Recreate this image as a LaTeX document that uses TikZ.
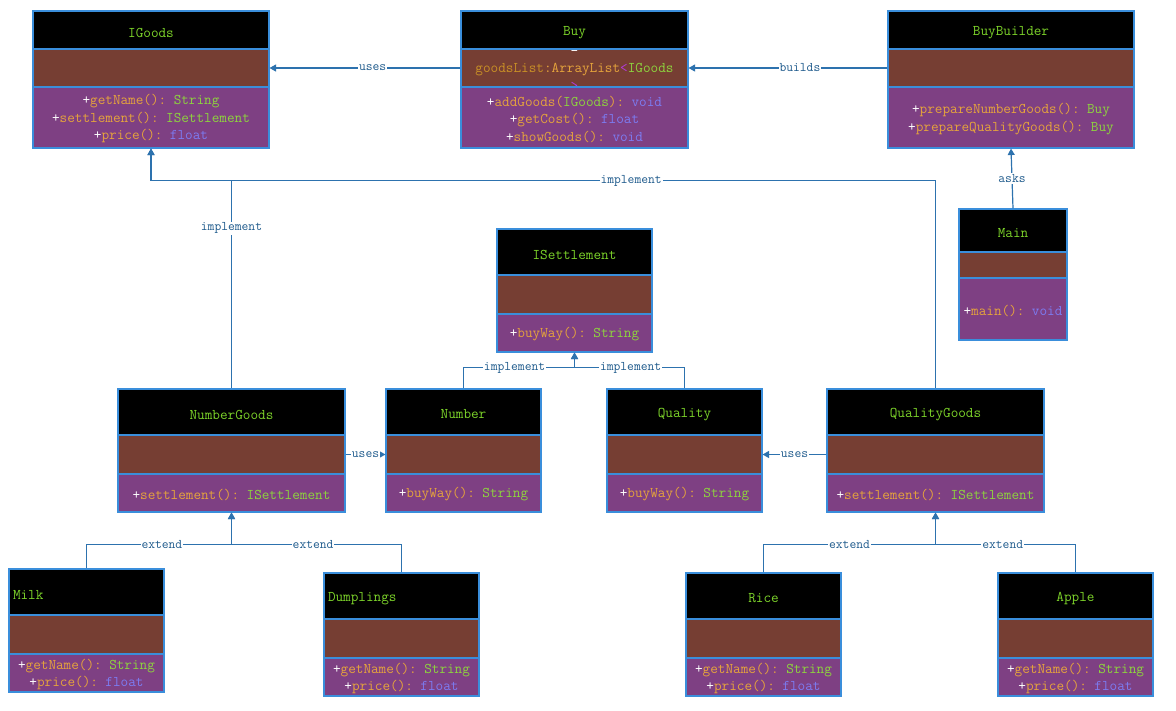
\documentclass[tikz,border=0pt]{standalone}
\usetikzlibrary{arrows.meta}

\definecolor{hdrfill}{HTML}{000000}
\definecolor{attrfill}{HTML}{763E33}
\definecolor{methfill}{HTML}{7E4083}
\definecolor{boxline}{HTML}{3A8EDB}
\definecolor{titlegreen}{HTML}{7DD42A}
\definecolor{mname}{HTML}{E6A43C}
\definecolor{typegreen}{HTML}{8ED43E}
\definecolor{typeblue}{HTML}{7C7CF2}
\definecolor{fieldname}{HTML}{C99026}
\definecolor{generic}{HTML}{B23BD9}
\definecolor{wire}{HTML}{2D72AE}
\definecolor{wiretext}{HTML}{1E5A8C}

% pieces of a member line
\newcommand\pls{\textcolor{white}{+}}
\newcommand\mn[1]{\textcolor{mname}{#1}}
\newcommand\tg[1]{\textcolor{typegreen}{#1}}
\newcommand\tb[1]{\textcolor{typeblue}{#1}}

% attribute text of the next class drawn (empty for most classes)
\newcommand\umlattrs{}

\tikzset{
  frame/.style={draw=boxline, line width=1.1pt, inner sep=0pt},
  txt/.style={inner xsep=4pt, inner ysep=0pt, align=center,
    font=\ttfamily\fontsize{14.8}{17.5}\selectfont},
  wire/.style={draw=wire, line width=1.2pt, -{Triangle[length=6.5pt,width=7pt]}},
  lbl/.style={fill=white, text=wiretext, inner sep=1pt,
    font=\ttfamily\fontsize{13.2}{14}\selectfont},
}

% #1 name, #2 left, #3 right, #4 top, #5 header bottom, #6 attribute bottom,
% #7 bottom, #8 title, #9 operations
\newcommand\umlclass[9]{%
  \pgfmathsetmacro\cw{#3-#2}%
  \pgfmathsetmacro\tw{#3-#2-8}%
  \pgfmathsetmacro\cx{(#2+#3)/2}%
  \node[frame, fill=hdrfill, minimum width=\cw pt, minimum height={#5-#4}]
       (#1-h) at (\cx,{(#4+#5)/2}) {};
  \node[txt, text=titlegreen, text width=\tw pt, yshift=-2.5pt] (#1-ht) at (#1-h) {#8};
  \node[frame, fill=attrfill, minimum width=\cw pt, minimum height={#6-#5}]
       (#1-a) at (\cx,{(#5+#6)/2}) {};
  \node[txt, text width=\tw pt, yshift=-2pt] (#1-at) at (#1-a) {\umlattrs};
  \node[frame, fill=methfill, minimum width=\cw pt, minimum height={#7-#6}]
       (#1-m) at (\cx,{(#6+#7)/2}) {};
  \node[txt, text width=\tw pt, yshift=-1.5pt] (#1-mt) at (#1-m) {#9};
}

\begin{document}
\begin{tikzpicture}[x=1pt,y=-1pt]
\useasboundingbox[fill=white] (0,0) rectangle (1176,710);

% ---------- classes ----------
\umlclass{IGoods}{33}{269}{11}{49}{87}{148}{IGoods}
  {\pls\mn{getName():} \tg{String}\\\pls\mn{settlement():} \tg{ISettlement}\\\pls\mn{price():} \tb{float}}

\renewcommand\umlattrs{\textcolor{white}{-}\\\textcolor{fieldname}{goodsList}\mn{:ArrayList}\textcolor{generic}{<}\tg{IGoods}\\\textcolor{generic}{>}}
\umlclass{Buy}{461}{688}{11}{49}{87}{148}{Buy}
  {\pls\mn{addGoods(}\tg{IGoods}\mn{):} \tb{void}\\\pls\mn{getCost():} \tb{float}\\\pls\mn{showGoods():} \tb{void}}
\renewcommand\umlattrs{}

\umlclass{BuyBuilder}{888}{1134}{11}{49}{87}{148}{BuyBuilder}
  {\pls\mn{prepareNumberGoods():} \tg{Buy}\\\pls\mn{prepareQualityGoods():} \tg{Buy}}

\umlclass{Main}{959}{1067}{209}{252}{278}{340}{Main}
  {\pls\mn{main():} \tb{void}}

\umlclass{ISettlement}{497}{652}{229}{275}{314}{352}{ISettlement}
  {\pls\mn{buyWay():} \tg{String}}

\umlclass{NumberGoods}{118}{345}{389}{435}{474}{512}{NumberGoods}
  {\pls\mn{settlement():} \tg{ISettlement}}
\umlclass{Number}{386}{541}{389}{435}{474}{512}{Number}
  {\pls\mn{buyWay():} \tg{String}}
\umlclass{Quality}{607}{762}{389}{435}{474}{512}{Quality}
  {\pls\mn{buyWay():} \tg{String}}
\umlclass{QualityGoods}{827}{1044}{389}{435}{474}{512}{QualityGoods}
  {\pls\mn{settlement():} \tg{ISettlement}}

\umlclass{Milk}{9}{164}{569}{615}{654}{692}{\makebox[\linewidth][l]{Milk}}
  {\pls\mn{getName():} \tg{String}\\\pls\mn{price():} \tb{float}}
\umlclass{Dumplings}{324}{479}{573}{619}{658}{696}{\makebox[\linewidth][l]{Dumplings}}
  {\pls\mn{getName():} \tg{String}\\\pls\mn{price():} \tb{float}}
\umlclass{Rice}{686}{841}{573}{619}{658}{696}{Rice}
  {\pls\mn{getName():} \tg{String}\\\pls\mn{price():} \tb{float}}
\umlclass{Apple}{998}{1153}{573}{619}{658}{696}{Apple}
  {\pls\mn{getName():} \tg{String}\\\pls\mn{price():} \tb{float}}

% ---------- relations ----------
\draw[wire] (Buy-a.west) -- node[lbl,pos=0.46]{uses} (IGoods-a.east);
\draw[wire] (BuyBuilder-a.west) -- node[lbl,pos=0.44]{builds} (Buy-a.east);
\draw[wire] (Main-h.north) -- node[lbl]{asks} (BuyBuilder-m.south);

\draw[wire] (NumberGoods-h.north) -- node[lbl,pos=0.77]{implement} ++(0,-208) -| (IGoods-m.south);
\draw[wire] (QualityGoods-h.north) -- ++(0,-208) -| node[lbl,pos=0.194]{implement} (IGoods-m.south);

\draw[wire] (Number-h.north) -- ++(0,-21) -| node[lbl,pos=0.23]{implement} (ISettlement-m.south);
\draw[wire] (Quality-h.north) -- ++(0,-21) -| node[lbl,pos=0.245]{implement} (ISettlement-m.south);

\draw[wire] (NumberGoods-a.east) -- node[lbl]{uses} (Number-a.west);
\draw[wire] (QualityGoods-a.west) -- node[lbl]{uses} (Quality-a.east);

\draw[wire] (Milk-h.north) -- ++(0,-24) -| node[lbl,pos=0.26]{extend} (NumberGoods-m.south);
\draw[wire] (Dumplings-h.north) -- ++(0,-28) -| node[lbl,pos=0.26]{extend} (NumberGoods-m.south);
\draw[wire] (Rice-h.north) -- ++(0,-28) -| node[lbl,pos=0.25]{extend} (QualityGoods-m.south);
\draw[wire] (Apple-h.north) -- ++(0,-28) -| node[lbl,pos=0.26]{extend} (QualityGoods-m.south);
\end{tikzpicture}
\end{document}
